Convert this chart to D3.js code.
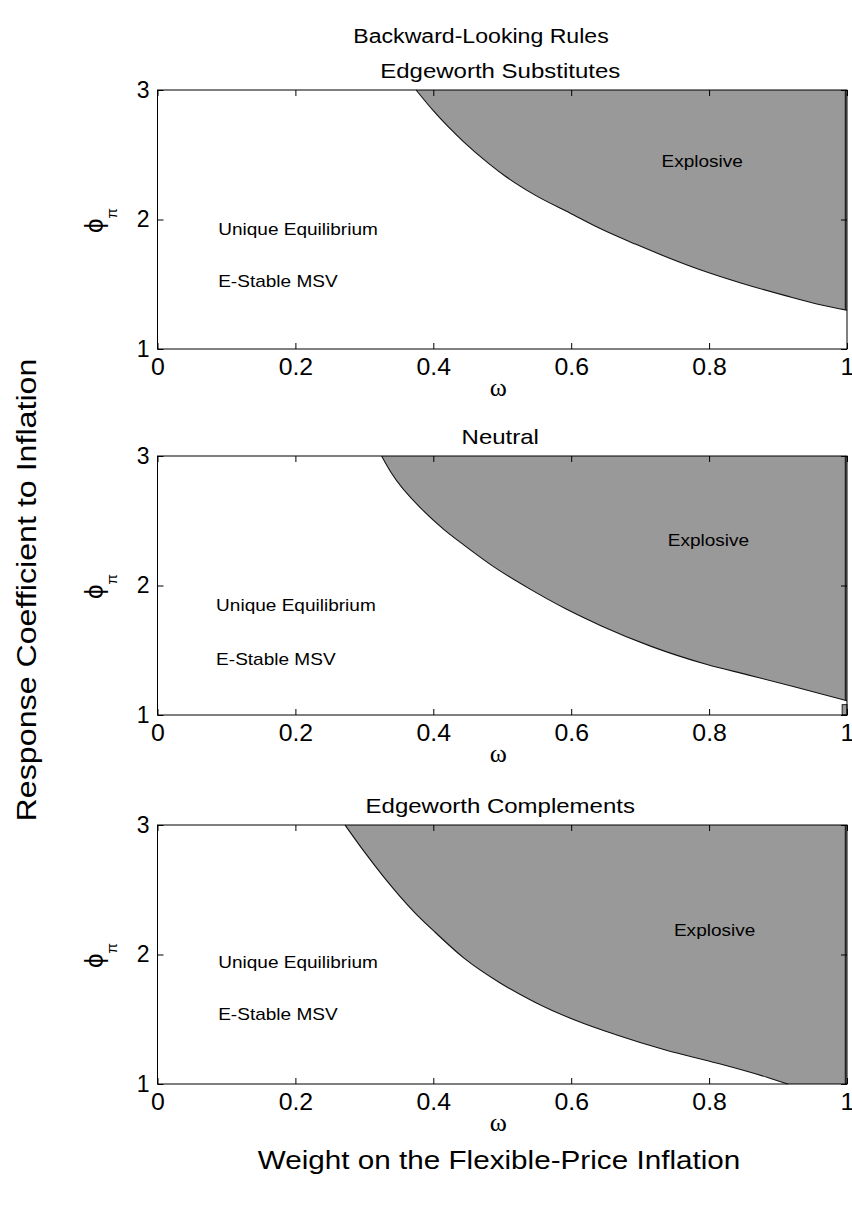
<!DOCTYPE html>
<html>
<head>
  <meta charset="utf-8">
  <script src="https://d3js.org/d3.v7.min.js"></script>
  <style>
    body { margin: 0; background: #fff; }
    text { font-family: "Liberation Sans", Arial, sans-serif; fill: #000; }
  </style>
</head>
<body>
  <svg id="viz"></svg>
  <script>
    // chart data
    var panelTitles = ["Edgeworth Substitutes", "Neutral", "Edgeworth Complements"];
    var omegaTicks = [0, 0.2, 0.4, 0.6, 0.8, 1];
    var phiTicks = [1, 2, 3];

    // boundary of the explosive region (omega, phi)
    var subsOmega = [0.375, 0.40, 0.444, 0.481, 0.503, 0.547, 0.598, 0.642, 0.693, 0.788, 0.846, 0.912, 0.963, 1.0];
    var subsPhi   = [3.00, 2.84, 2.60, 2.43, 2.34, 2.19, 2.05, 1.93, 1.81, 1.61, 1.51, 1.41, 1.34, 1.30];
    var neutOmega = [0.325, 0.339, 0.387, 0.416, 0.445, 0.489, 0.541, 0.592, 0.643, 0.716, 0.797, 0.856, 0.922, 1.0];
    var neutPhi   = [3.00, 2.87, 2.57, 2.43, 2.31, 2.14, 1.97, 1.82, 1.69, 1.53, 1.39, 1.31, 1.22, 1.11];
    var compOmega = [0.272, 0.299, 0.328, 0.372, 0.401, 0.445, 0.497, 0.548, 0.607, 0.665, 0.738, 0.812, 0.885, 0.914];
    var compPhi   = [3.00, 2.80, 2.60, 2.33, 2.18, 1.97, 1.78, 1.63, 1.49, 1.38, 1.26, 1.16, 1.05, 1.00];

    var boundaries = [
      { omega: subsOmega, phi: subsPhi },
      { omega: neutOmega, phi: neutPhi },
      { omega: compOmega, phi: compPhi }
    ];

    // label anchors in data units (omega, phi)
    var explosiveAt = [[0.731, 2.45], [0.74, 2.35], [0.749, 2.19]];
    var uniqueAt = [[0.088, 1.93], [0.085, 1.85], [0.088, 1.94]];
    var stableAt = [[0.088, 1.525], [0.085, 1.43], [0.088, 1.54]];

    var width = 852, height = 1206;
    var svg = d3.select("#viz").attr("width", width).attr("height", height);
    svg.append("rect").attr("width", width).attr("height", height).attr("fill", "#fff");

    var left = 157.5, right = 847, panelH = 259;
    var tops = [90, 456, 825];
    var tickLen = 6;

    var x = d3.scaleLinear().domain([0, 1]).range([left, right]);

    // text in the original is a bit wider than Arial, so stretch it sideways
    function label(parent, px, py, str, size, anchor, sx, rot) {
      return parent.append("text")
        .attr("transform", "translate(" + px + "," + py + ")" + (rot ? " rotate(" + rot + ")" : "") + " scale(" + sx + ",1)")
        .attr("text-anchor", anchor || "start")
        .attr("font-size", size)
        .text(str);
    }

    tops.forEach(function(top, i) {
      var y = d3.scaleLinear().domain([1, 3]).range([top + panelH, top]);
      var g = svg.append("g");
      var b = boundaries[i];

      var pts = b.omega.map(function(w, k) { return [w, b.phi[k]]; });
      var last = pts[pts.length - 1];
      var corner = [];
      if (last[0] < 1) corner.push([1, 1]);
      corner.push([1, 3]);

      var curve = d3.line()
        .x(function(d) { return x(d[0]); })
        .y(function(d) { return y(d[1]); })
        .curve(d3.curveMonotoneX);
      var straight = d3.line()
        .x(function(d) { return x(d[0]); })
        .y(function(d) { return y(d[1]); });

      g.append("path")
        .attr("d", curve(pts) + straight(corner).replace(/^M/, "L") + "Z")
        .attr("fill", "#999999")
        .attr("stroke", "none");

      g.append("path")
        .attr("d", curve(pts))
        .attr("fill", "none")
        .attr("stroke", "#111")
        .attr("stroke-width", 1.1);

      // dark edge of the region along omega = 1
      g.append("line")
        .attr("x1", x(1) - 1.5).attr("x2", x(1) - 1.5)
        .attr("y1", y(3)).attr("y2", y(last[0] < 1 ? 1 : last[1]))
        .attr("stroke", "#222").attr("stroke-width", 1.5);

      if (i == 1) {
        g.append("rect")
          .attr("x", x(0.993)).attr("y", y(1.08))
          .attr("width", x(1) - x(0.993)).attr("height", y(1) - y(1.08))
          .attr("fill", "#999").attr("stroke", "#222").attr("stroke-width", 1);
      }

      // box
      g.append("rect")
        .attr("x", left).attr("y", top)
        .attr("width", right - left).attr("height", panelH)
        .attr("fill", "none").attr("stroke", "#000").attr("stroke-width", 1);

      // ticks inward on all sides
      var xa = g.append("g").attr("transform", "translate(0," + (top + panelH) + ")")
        .call(d3.axisBottom(x).tickValues(omegaTicks).tickSize(-tickLen).tickPadding(10)
          .tickFormat(d3.format("~g")));
      xa.select(".domain").remove();
      xa.selectAll("text").attr("font-size", 23).attr("fill", "#000")
        .attr("transform", "scale(1.08,1)");

      var xt = g.append("g").attr("transform", "translate(0," + top + ")")
        .call(d3.axisTop(x).tickValues(omegaTicks).tickSize(-tickLen).tickFormat(""));
      xt.select(".domain").remove();

      var ya = g.append("g").attr("transform", "translate(" + left + ",0)")
        .call(d3.axisLeft(y).tickValues(phiTicks).tickSize(-tickLen).tickPadding(8)
          .tickFormat(d3.format("d")));
      ya.select(".domain").remove();
      ya.selectAll("text").attr("font-size", 23).attr("fill", "#000");

      var yr = g.append("g").attr("transform", "translate(" + right + ",0)")
        .call(d3.axisRight(y).tickValues(phiTicks).tickSize(-tickLen).tickFormat(""));
      yr.select(".domain").remove();

      g.selectAll(".tick line").attr("stroke", "#000");

      // titles and labels
      label(g, (left + right) / 2 - 2, top - 12, panelTitles[i], 20, "middle", 1.2);

      g.append("text")
        .attr("x", (left + right) / 2 - 4).attr("y", top + panelH + 47)
        .attr("text-anchor", "middle").attr("font-size", 26)
        .style("font-family", "Liberation Serif, Times New Roman, serif")
        .text("\u03c9");

      var phiLab = g.append("text")
        .attr("transform", "translate(103," + (y(2) + 1) + ") rotate(-90)")
        .attr("text-anchor", "middle").attr("font-size", 26);
      phiLab.append("tspan").text("\u03d5");
      phiLab.append("tspan").attr("font-size", 15).attr("dy", 14).text("\u03c0");

      label(g, x(explosiveAt[i][0]), y(explosiveAt[i][1]) + 6, "Explosive", 17, "start", 1.12);
      label(g, x(uniqueAt[i][0]), y(uniqueAt[i][1]) + 6, "Unique Equilibrium", 17, "start", 1.12);
      label(g, x(stableAt[i][0]), y(stableAt[i][1]) + 6, "E-Stable MSV", 17, "start", 1.12);
    });

    label(svg, 481, 43, "Backward-Looking Rules", 21, "middle", 1.1);
    label(svg, 36, 590, "Response Coefficient to Inflation", 28, "middle", 1.15, -90);
    label(svg, 499, 1169, "Weight on the Flexible-Price Inflation", 26.5, "middle", 1.12);
  </script>
</body>
</html>
